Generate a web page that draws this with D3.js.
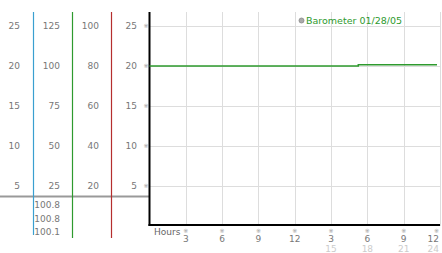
<!DOCTYPE html>
<html>
<head>
<meta charset="utf-8">
<script src="https://cdn.jsdelivr.net/npm/d3@7"></script>
<style>
  body { margin: 0; background: #fff; }
  svg { display: block; font-family: "DejaVu Sans", Verdana, sans-serif; }
  .lbl { font-size: 9px; fill: #777; }
  .grid line { stroke: #ddd; stroke-width: 1; }
  .mark { font-size: 6px; fill: #999; }
</style>
</head>
<body>
<svg id="chart" width="442" height="253"></svg>
<script>
'use strict'

// left-hand scale columns
const scaleA = [25, 20, 15, 10, 5]
const scaleB = [125, 100, 75, 50, 25]
const scaleC = [100, 80, 60, 40, 20]
const scaleMain = [25, 20, 15, 10, 5]
const readings = ['100.8', '100.8', '100.1']

// x axis
const hourTicks = [3, 6, 9, 12, 15, 18, 21, 24]
const hourLabels = ['3', '6', '9', '12', '3', '6', '9', '12']
const hourLabels24 = ['', '', '', '', '15', '18', '21', '24']

// barometer series
const hours = [0, 3, 6, 9, 12, 15, 17.25, 18, 21, 23.75]
const pressure = [20, 20, 20, 20, 20, 20, 20.17, 20.17, 20.17, 20.17]

const legendText = 'Barometer 01/28/05'

const svg = d3.select('#chart')
const plot = { left: 149.5, right: 440, top: 12, bottom: 226 }

const x = d3.scaleLinear().domain([0, 24]).range([plot.left, plot.right])
const y = d3.scaleLinear().domain([0, 26.75]).range([plot.bottom, plot.top])

// last hour labels sit flush against the right edge
const labelX = d => d === 24 ? x(d) - 1 : x(d)
const labelAnchor = d => d === 24 ? 'end' : 'middle'

// grid
const grid = svg.append('g').classed('grid', true)
grid.selectAll('.h').data(scaleMain).enter().append('line')
    .attr('x1', plot.left).attr('x2', plot.right)
    .attr('y1', d => Math.round(y(d)) + 0.5).attr('y2', d => Math.round(y(d)) + 0.5)
grid.selectAll('.v').data(hourTicks).enter().append('line')
    .attr('x1', d => Math.round(x(d)) + 0.5).attr('x2', d => Math.round(x(d)) + 0.5)
    .attr('y1', plot.top).attr('y2', plot.bottom)

// separator under the left columns
svg.append('line')
    .attr('x1', 0).attr('x2', plot.left)
    .attr('y1', 196.5).attr('y2', 196.5)
    .attr('stroke', '#999').attr('stroke-width', 2)

// coloured column rules
const rules = [
    { x: 33.5, color: '#3a9fd0', end: 235 },
    { x: 72.5, color: '#2e9a2e', end: 238 },
    { x: 111.5, color: '#b52e2e', end: 238 }
]
svg.selectAll('.rule').data(rules).enter().append('line')
    .attr('x1', d => d.x).attr('x2', d => d.x)
    .attr('y1', plot.top).attr('y2', d => d.end)
    .attr('stroke', d => d.color).attr('stroke-width', 1.2)

// column labels
const cols = [
    { vals: scaleA, x: 20 },
    { vals: scaleB, x: 60 },
    { vals: scaleC, x: 99 },
    { vals: scaleMain, x: 137 }
]
cols.forEach(c => {
    svg.append('g').selectAll('text').data(c.vals).enter().append('text')
        .classed('lbl', true)
        .attr('x', c.x)
        .attr('y', (d, i) => y(scaleMain[i]))
        .attr('dy', '0.35em')
        .attr('text-anchor', 'end')
        .text(d => d)
})

svg.append('g').selectAll('text').data(readings).enter().append('text')
    .classed('lbl', true)
    .attr('x', 60).attr('y', (d, i) => 205 + i * 13.5)
    .attr('dy', '0.35em').attr('text-anchor', 'end')
    .text(d => d)

// little tick marks
svg.append('g').selectAll('text').data(scaleMain).enter().append('text')
    .classed('mark', true)
    .attr('x', 146).attr('y', d => y(d)).attr('dy', '0.35em')
    .attr('text-anchor', 'middle').text('※')
svg.append('g').selectAll('text').data(hourTicks).enter().append('text')
    .classed('mark', true)
    .attr('x', labelX).attr('y', 231).attr('dy', '0.35em')
    .attr('text-anchor', labelAnchor).text('※')

// x labels
svg.append('g').selectAll('text').data(hourTicks).enter().append('text')
    .classed('lbl', true)
    .attr('x', labelX).attr('y', 238.5).attr('dy', '0.35em')
    .attr('text-anchor', labelAnchor)
    .text((d, i) => hourLabels[i])
svg.append('g').selectAll('text').data(hourTicks).enter().append('text')
    .classed('lbl', true)
    .attr('x', labelX).attr('y', 248.5).attr('dy', '0.35em')
    .attr('text-anchor', labelAnchor).style('fill', '#ccc')
    .text((d, i) => hourLabels24[i])
svg.append('text')
    .classed('lbl', true)
    .attr('x', 154).attr('y', 232).attr('dy', '0.35em')
    .style('fill', '#666')
    .text('Hours')

// axes
svg.append('line')
    .attr('x1', plot.left).attr('x2', plot.left)
    .attr('y1', plot.top).attr('y2', plot.bottom)
    .attr('stroke', '#000').attr('stroke-width', 2)
svg.append('line')
    .attr('x1', plot.left - 1).attr('x2', plot.right)
    .attr('y1', plot.bottom - 1).attr('y2', plot.bottom - 1)
    .attr('stroke', '#000').attr('stroke-width', 2)

// series
const series = hours.map((h, i) => ({ h: h, v: pressure[i] }))
svg.append('path')
    .datum(series)
    .attr('fill', 'none')
    .attr('stroke', '#2e9a2e')
    .attr('stroke-width', 1.5)
    .attr('d', d3.line().x(d => x(d.h)).y(d => y(d.v)).curve(d3.curveStepAfter))

// legend
svg.append('circle')
    .attr('cx', 301.5).attr('cy', 20.5).attr('r', 2.5)
    .attr('fill', '#aaa').attr('stroke', '#888').attr('stroke-width', 0.8)
svg.append('text')
    .attr('x', 306).attr('y', 20.5).attr('dy', '0.35em')
    .style('font-size', '9.5px').attr('fill', '#2e9a2e')
    .text(legendText)
</script>
</body>
</html>
